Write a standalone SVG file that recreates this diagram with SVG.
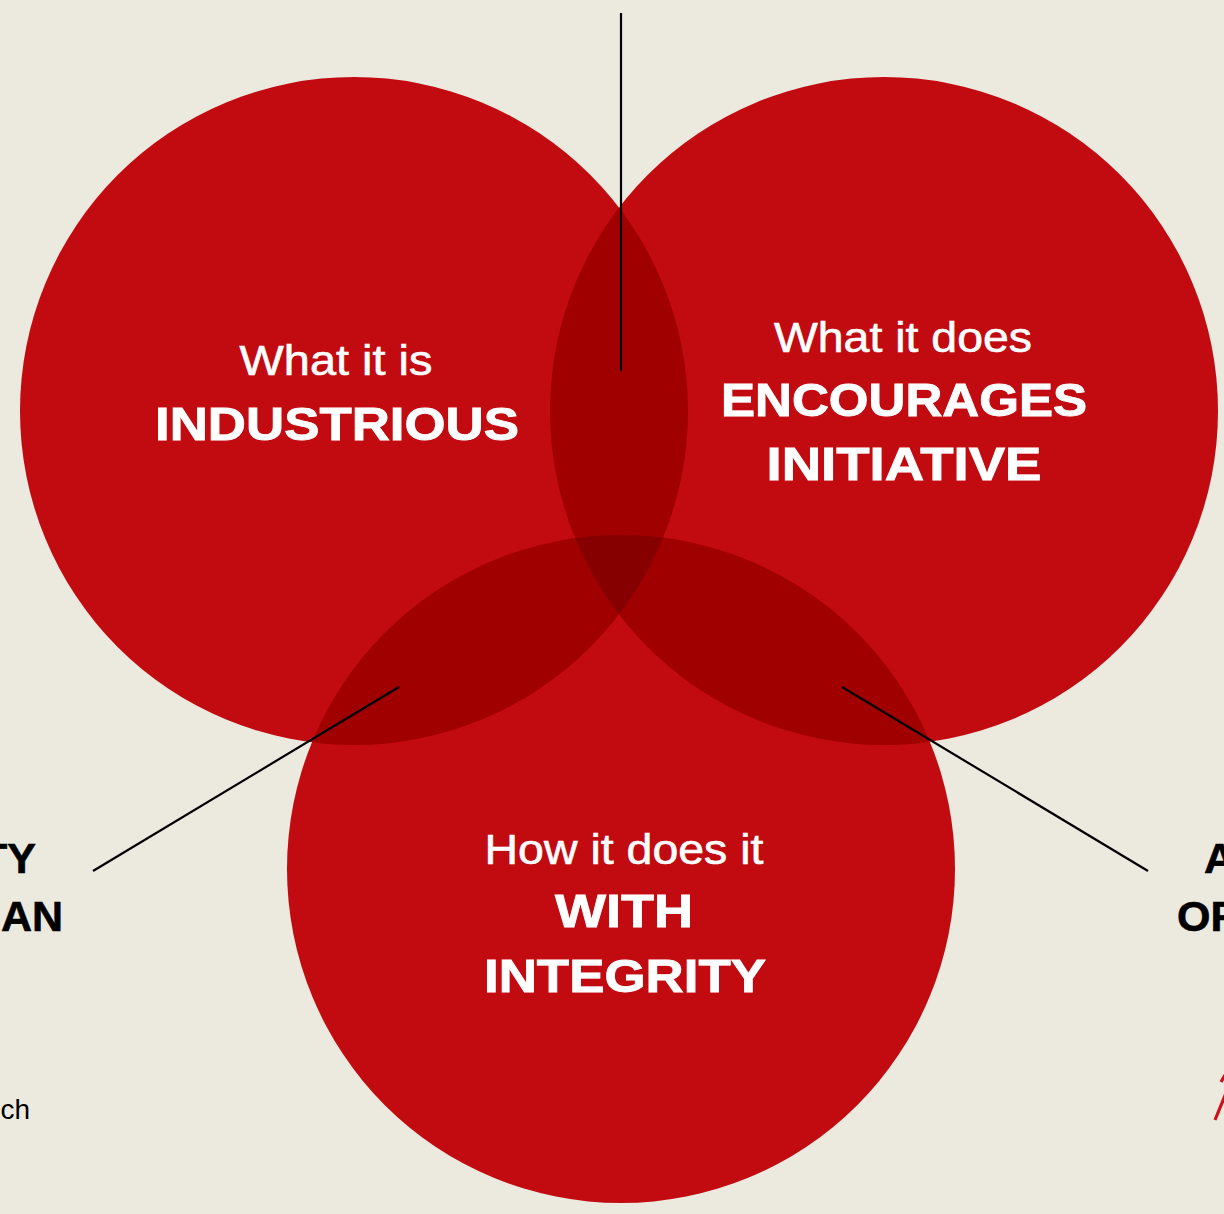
<svg xmlns="http://www.w3.org/2000/svg" width="1224" height="1214" viewBox="0 0 1224 1214">
  <style>
    .disc { fill: #C20A11; }
    .pair { fill: #A10000; }
    .triple { fill: #860000; }
    .lead { stroke: #000; stroke-width: 2.2; stroke-linecap: butt; fill: none; }
    .sub { font-family: "Liberation Sans", Arial, sans-serif; font-size: 42px; fill: #fff; stroke: #fff; stroke-width: 0.6; text-anchor: middle; }
    .head { font-family: "Liberation Sans", Arial, sans-serif; font-size: 47px; font-weight: bold; fill: #fff; stroke: #fff; stroke-width: 0.9; text-anchor: middle; }
    .side { font-family: "Liberation Sans", Arial, sans-serif; font-size: 43px; font-weight: bold; fill: #000; stroke: #000; stroke-width: 0.6; }
    .note { font-family: "Liberation Sans", Arial, sans-serif; font-size: 28px; fill: #000; }
  </style>
  <defs>
    <circle id="c-left" cx="354" cy="411" r="334"/>
    <circle id="c-right" cx="884" cy="411" r="334"/>
    <circle id="c-bottom" cx="621" cy="869" r="334"/>
    <clipPath id="clip-left"><use href="#c-left"/></clipPath>
    <clipPath id="clip-right"><use href="#c-right"/></clipPath>
    <clipPath id="clip-bottom"><use href="#c-bottom"/></clipPath>
  </defs>

  <!-- page background -->
  <rect width="1224" height="1214" fill="#ECE9DF"/>

  <!-- side captions running off the page edges -->
  <text class="side" x="36" y="873" text-anchor="end">TY</text>
  <text class="side" x="63" y="931" text-anchor="end">AN</text>
  <text class="note" x="30" y="1119" text-anchor="end">ch</text>
  <text class="side" x="1204" y="873">A</text>
  <text class="side" x="1177" y="931">OF</text>
  <polyline points="1215,1120 1226,1093" fill="none" stroke="#D10F19" stroke-width="3.2"/>
  <polyline points="1221,1082 1225,1075" fill="none" stroke="#D10F19" stroke-width="3.2"/>

  <g id="node-what-it-is">
    <use href="#c-left" class="disc"/>
  </g>
  <g id="node-what-it-does">
    <use href="#c-right" class="disc"/>
  </g>
  <g id="node-how-it-does-it">
    <use href="#c-bottom" class="disc"/>
  </g>

  <!-- overlap shading -->
  <g id="overlaps">
    <use href="#c-right" class="pair" clip-path="url(#clip-left)"/>
    <use href="#c-bottom" class="pair" clip-path="url(#clip-left)"/>
    <use href="#c-bottom" class="pair" clip-path="url(#clip-right)"/>
    <g clip-path="url(#clip-right)">
      <use href="#c-bottom" class="triple" clip-path="url(#clip-left)"/>
    </g>
  </g>

  <!-- labels -->
  <g id="label-what-it-is">
    <text class="sub" x="336" y="375" textLength="193" lengthAdjust="spacingAndGlyphs">What it is</text>
    <text class="head" x="337" y="440" textLength="364" lengthAdjust="spacingAndGlyphs">INDUSTRIOUS</text>
  </g>
  <g id="label-what-it-does">
    <text class="sub" x="903" y="352" textLength="258" lengthAdjust="spacingAndGlyphs">What it does</text>
    <text class="head" x="904" y="416" textLength="366" lengthAdjust="spacingAndGlyphs">ENCOURAGES</text>
    <text class="head" x="904" y="480" textLength="275" lengthAdjust="spacingAndGlyphs">INITIATIVE</text>
  </g>
  <g id="label-how-it-does-it">
    <text class="sub" x="624" y="864" textLength="279" lengthAdjust="spacingAndGlyphs">How it does it</text>
    <text class="head" x="624" y="927" textLength="138" lengthAdjust="spacingAndGlyphs">WITH</text>
    <text class="head" x="625" y="992" textLength="282" lengthAdjust="spacingAndGlyphs">INTEGRITY</text>
  </g>

  <!-- leader lines -->
  <g id="connectors">
    <line class="lead" x1="621" y1="13" x2="621" y2="371"/>
    <line class="lead" x1="93" y1="871" x2="399" y2="687"/>
    <line class="lead" x1="842" y1="687" x2="1148" y2="871"/>
  </g>
</svg>
